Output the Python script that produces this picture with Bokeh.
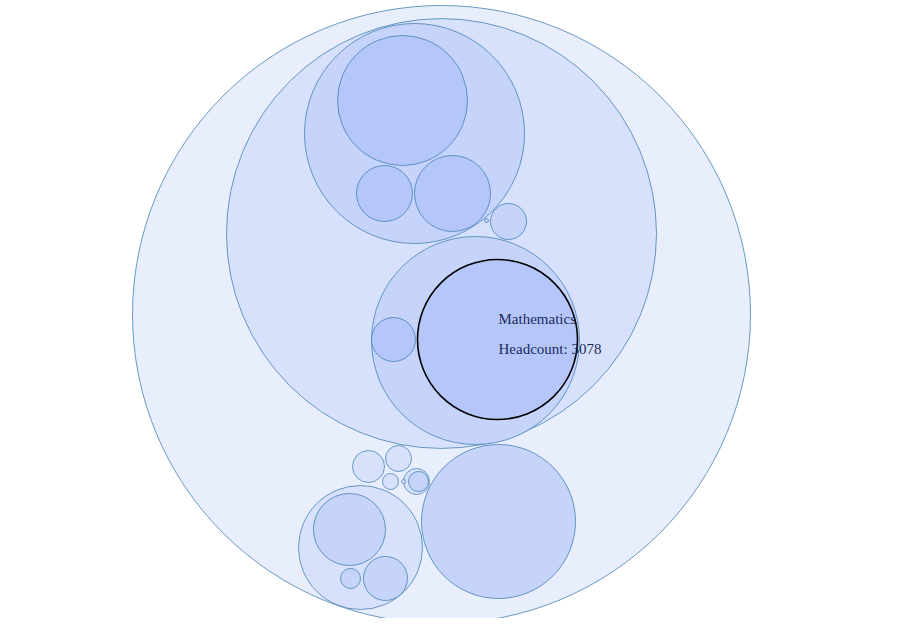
from bokeh.plotting import figure
from bokeh.models import ColumnDataSource, Range1d
from bokeh.embed import file_html
from bokeh.resources import INLINE

# packed circle layout (centre x, centre y, radius, depth)
cx = [441, 441, 414, 402, 384, 452, 508, 486, 475, 393, 498, 360, 349, 385, 350, 368, 398, 390, 416, 418, 403, 497]
cy = [314, 233, 133, 100, 193, 193, 221, 220, 340, 339, 521, 547, 529, 578, 578, 466, 458, 481, 481, 481, 481, 339]
rad = [309, 215, 110, 65, 28, 38, 18, 2, 104, 22, 77, 62, 36, 22, 10, 16, 13, 8, 13, 10, 2, 80]
depth = [0, 1, 2, 3, 3, 3, 2, 2, 2, 3, 2, 1, 2, 2, 2, 1, 1, 1, 1, 2, 1, 3]

focus_name = "Mathematics"
focus_count = 3078

fills = ["#e8eefc", "#d8e1fb", "#c6d4fb", "#b5c7fa"]

p = figure(width=887, height=618, output_backend="svg", toolbar_location=None,
           x_range=Range1d(0, 887), y_range=Range1d(618, 0), min_border=0)
p.axis.visible = False
p.grid.visible = False
p.outline_line_color = None

src = ColumnDataSource(dict(x=cx[:-1], y=cy[:-1], r=rad[:-1],
                            c=[fills[d] for d in depth[:-1]]))
p.circle("x", "y", radius="r", source=src, fill_color="c", fill_alpha=1,
         line_color="#4682b4", line_width=0.8)

# highlighted node
p.circle([cx[-1]], [cy[-1]], radius=rad[-1], fill_color=fills[depth[-1]],
         line_color="black", line_width=1.6)
p.text([cx[-1] + 1, cx[-1] + 1], [cy[-1] - 21, cy[-1] + 9],
       text=[focus_name, "Headcount: %d" % focus_count],
       text_font={"value": "Liberation Serif"}, text_font_size="15px",
       text_color="#1c2b5a", text_baseline="middle")

open("out.html", "w").write(file_html(p, INLINE))
